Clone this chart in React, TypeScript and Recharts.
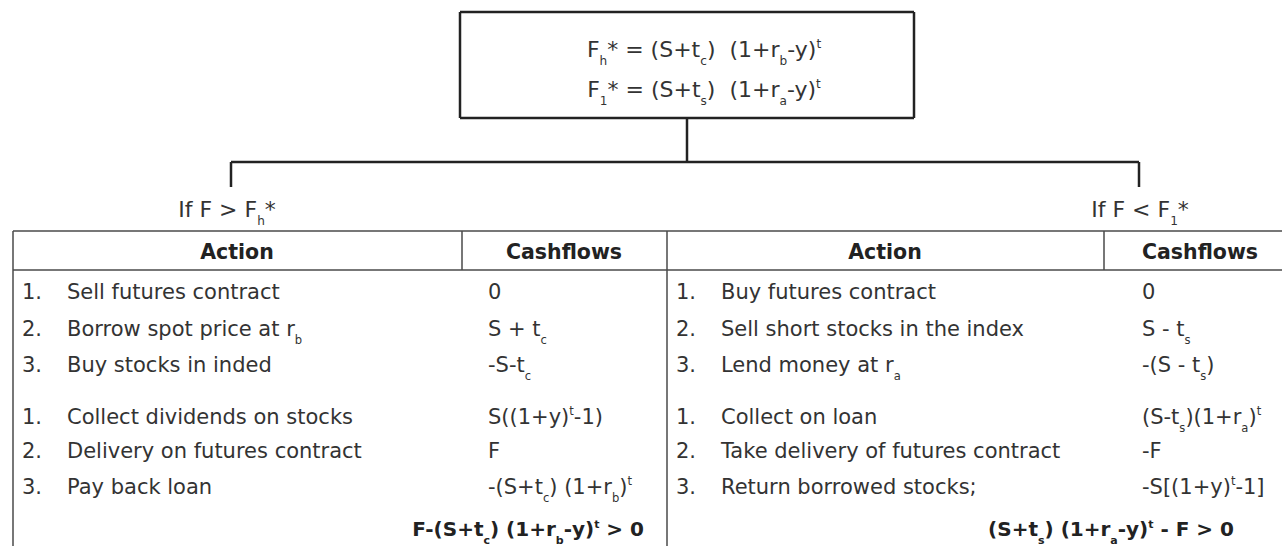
import { ComposedChart, ReferenceLine, Scatter, XAxis, YAxis } from 'recharts';

const W = 1282;
const H = 546;
const FONT = '"DejaVu Sans", "Noto Sans", sans-serif';
const INK = '#333333';

// "_x" = subscript char, "^x" = superscript char
const formulas = ['F_h* = (S+t_c)  (1+r_b-y)^t', 'F_1* = (S+t_s)  (1+r_a-y)^t'];
const conditions = ['If F > F_h*', 'If F < F_1*'];
const headers = ['Action', 'Cashflows'];

const leftActions = [
  'Sell futures contract',
  'Borrow spot price at r_b',
  'Buy stocks in inded',
  'Collect dividends on stocks',
  'Delivery on futures contract',
  'Pay back loan',
];
const leftCash = ['0', 'S + t_c', '-S-t_c', 'S((1+y)^t-1)', 'F', '-(S+t_c) (1+r_b)^t'];
const leftResult = 'F-(S+t_c) (1+r_b-y)^t > 0';

const rightActions = [
  'Buy futures contract',
  'Sell short stocks in the index',
  'Lend money at r_a',
  'Collect on loan',
  'Take delivery of futures contract',
  'Return borrowed stocks;',
];
const rightCash = ['0', 'S - t_s', '-(S - t_s)', '(S-t_s)(1+r_a)^t', '-F', '-S[(1+y)^t-1]'];
const rightResult = '(S+t_s) (1+r_a-y)^t - F > 0';

type Part = { t: string; k: 'n' | 'sub' | 'sup' };

const parse = (s: string): Part[] => {
  const out: Part[] = [];
  let buf = '';
  for (let i = 0; i < s.length; i++) {
    const ch = s[i];
    if ((ch === '_' || ch === '^') && i + 1 < s.length) {
      if (buf) out.push({ t: buf, k: 'n' });
      buf = '';
      out.push({ t: s[i + 1], k: ch === '_' ? 'sub' : 'sup' });
      i++;
    } else {
      buf += ch;
    }
  }
  if (buf) out.push({ t: buf, k: 'n' });
  return out;
};

type Label = {
  x: number;
  y: number;
  s: string;
  size: number;
  bold?: boolean;
  anchor?: 'start' | 'middle' | 'end';
};

function RichText({ x, y, s, size, bold, anchor }: Label) {
  let cur = 0;
  return (
    <text
      x={x}
      y={y}
      fontFamily={FONT}
      fontSize={size}
      fontWeight={bold ? 700 : 400}
      fill={bold ? '#222' : INK}
      textAnchor={anchor ?? 'start'}
      style={{ whiteSpace: 'pre' }}
    >
      {parse(s).map((p, i) => {
        const target = p.k === 'sub' ? size * 0.38 : p.k === 'sup' ? -size * 0.42 : 0;
        const dy = target - cur;
        cur = target;
        return (
          <tspan key={i} dy={dy} fontSize={p.k === 'n' ? size : size * 0.55}>
            {p.t}
          </tspan>
        );
      })}
    </text>
  );
}

// layout
const TABLE_L = 13;
const TABLE_TOP = 231;
const HEAD_BOT = 270;
const MID = 667;
const DIV_L = 462;
const DIV_R = 1104;
const ROW_Y = [299, 336, 372, 424, 458, 494];
const ROW_SIZE = 21;

const buildLabels = (): Label[] => {
  const labels: Label[] = [];
  formulas.forEach((s, i) => labels.push({ x: 704, y: 57 + i * 40, s, size: 22, anchor: 'middle' }));
  labels.push({ x: 227, y: 217, s: conditions[0], size: 22, anchor: 'middle' });
  labels.push({ x: 1140, y: 217, s: conditions[1], size: 22, anchor: 'middle' });

  const sides = [
    { actions: leftActions, cash: leftCash, result: leftResult, num: 22, text: 67, cx: 488, hA: 237, hC: 564, rx: 644 },
    { actions: rightActions, cash: rightCash, result: rightResult, num: 676, text: 721, cx: 1142, hA: 885, hC: 1200, rx: 1234 },
  ];
  sides.forEach((sd) => {
    labels.push({ x: sd.hA, y: 259, s: headers[0], size: 20.5, bold: true, anchor: 'middle' });
    labels.push({ x: sd.hC, y: 259, s: headers[1], size: 20.5, bold: true, anchor: 'middle' });
    sd.actions.forEach((a, i) => {
      labels.push({ x: sd.num, y: ROW_Y[i], s: `${(i % 3) + 1}.`, size: ROW_SIZE });
      labels.push({ x: sd.text, y: ROW_Y[i], s: a, size: ROW_SIZE });
      labels.push({ x: sd.cx, y: ROW_Y[i], s: sd.cash[i], size: ROW_SIZE });
    });
    labels.push({ x: sd.rx, y: 536, s: sd.result, size: 20, bold: true, anchor: 'end' });
  });
  return labels;
};

type Seg = { x1: number; y1: number; x2: number; y2: number; w: number; c: string };

const buildSegments = (): Seg[] => {
  const dark = '#222';
  const grey = '#4a4a4a';
  return [
    // formula box
    { x1: 460, y1: 12, x2: 914, y2: 12, w: 2.5, c: dark },
    { x1: 460, y1: 118, x2: 914, y2: 118, w: 2.5, c: dark },
    { x1: 460, y1: 12, x2: 460, y2: 118, w: 2.5, c: dark },
    { x1: 914, y1: 12, x2: 914, y2: 118, w: 2.5, c: dark },
    // tree
    { x1: 687, y1: 118, x2: 687, y2: 162, w: 2.5, c: dark },
    { x1: 231, y1: 162, x2: 1139, y2: 162, w: 2.5, c: dark },
    { x1: 231, y1: 162, x2: 231, y2: 187, w: 2.5, c: dark },
    { x1: 1139, y1: 162, x2: 1139, y2: 187, w: 2.5, c: dark },
    // table
    { x1: TABLE_L, y1: TABLE_TOP, x2: W, y2: TABLE_TOP, w: 1.5, c: grey },
    { x1: TABLE_L, y1: HEAD_BOT, x2: W, y2: HEAD_BOT, w: 1.5, c: grey },
    { x1: TABLE_L, y1: TABLE_TOP, x2: TABLE_L, y2: H, w: 1.5, c: grey },
    { x1: MID, y1: TABLE_TOP, x2: MID, y2: H, w: 1.5, c: grey },
    { x1: DIV_L, y1: TABLE_TOP, x2: DIV_L, y2: HEAD_BOT, w: 1.5, c: grey },
    { x1: DIV_R, y1: TABLE_TOP, x2: DIV_R, y2: HEAD_BOT, w: 1.5, c: grey },
  ];
};

const labels = buildLabels();
const segments = buildSegments();

const renderLabel = (props: any) => {
  const p = props.payload as Label;
  return <RichText {...p} x={props.cx} y={props.cy} />;
};

export default function App() {
  return (
    <div style={{ width: W, height: H, background: '#fff' }}>
      <style>{'body{margin:0}'}</style>
      <ComposedChart width={W} height={H} margin={{ top: 0, right: 0, bottom: 0, left: 0 }}>
        <XAxis type="number" dataKey="x" domain={[0, W]} hide allowDataOverflow />
        <YAxis type="number" dataKey="y" domain={[0, H]} reversed hide allowDataOverflow />
        {segments.map((s, i) => (
          <ReferenceLine
            key={i}
            segment={[
              { x: s.x1, y: s.y1 },
              { x: s.x2, y: s.y2 },
            ]}
            stroke={s.c}
            strokeWidth={s.w}
            ifOverflow="visible"
          />
        ))}
        <Scatter data={labels} shape={renderLabel} isAnimationActive={false} />
      </ComposedChart>
    </div>
  );
}
